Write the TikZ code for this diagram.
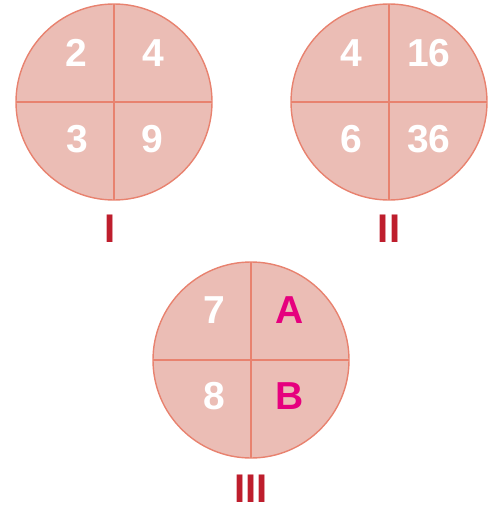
\documentclass[tikz,border=0pt]{standalone}
\usepackage{fontspec}
\setmainfont{Liberation Sans}
\begin{document}
\begin{tikzpicture}[x=1pt,y=-1pt,
  disc/.style={fill=discfill,draw=discline,line width=1.4pt},
  divider/.style={draw=discline,line width=1.4pt},
  num/.style={text=white,font=\fontsize{39}{39}\selectfont\bfseries,inner sep=0pt,anchor=base},
  unk/.style={text=unkpink,font=\fontsize{39}{39}\selectfont\bfseries,inner sep=0pt,anchor=base},
  lab/.style={text=labred,font=\fontsize{40}{40}\selectfont\bfseries,inner sep=0pt,anchor=base}]
\definecolor{discfill}{HTML}{EBBDB5}
\definecolor{discline}{HTML}{E8826F}
\definecolor{unkpink}{HTML}{E6007E}
\definecolor{labred}{HTML}{BE1E2D}
\useasboundingbox (0,0) rectangle (488,506);
% circle I
\coordinate (c1) at (114,102);
\draw[disc] (c1) circle[radius=98];
\draw[divider] ([xshift=-98]c1) -- ([xshift=98]c1);
\draw[divider] ([yshift=-98]c1) -- ([yshift=98]c1);
\node[num] (a1) at (76,66) {2};
\node[num] (b1) at (153,66) {4};
\node[num] (c1n) at (77,152) {3};
\node[num] (d1) at (152,152) {9};
\node[lab] (l1) at (110,242) {I};
% circle II
\coordinate (c2) at (389,102);
\draw[disc] (c2) circle[radius=98];
\draw[divider] ([xshift=-98]c2) -- ([xshift=98]c2);
\draw[divider] ([yshift=-98]c2) -- ([yshift=98]c2);
\node[num] (a2) at (351,66) {4};
\node[num] (b2) at (429,66) {16};
\node[num] (c2n) at (351,152) {6};
\node[num] (d2) at (429,152) {36};
\node[lab] (l2) at (389,242) {II};
% circle III
\coordinate (c3) at (251,360);
\draw[disc] (c3) circle[radius=98];
\draw[divider] ([xshift=-98]c3) -- ([xshift=98]c3);
\draw[divider] ([yshift=-98]c3) -- ([yshift=98]c3);
\node[num] (a3) at (214,323) {7};
\node[unk] (b3) at (290,323) {A};
\node[num] (c3n) at (214,409) {8};
\node[unk] (d3) at (290,409) {B};
\node[lab] (l3) at (251,502) {III};
\end{tikzpicture}
\end{document}
